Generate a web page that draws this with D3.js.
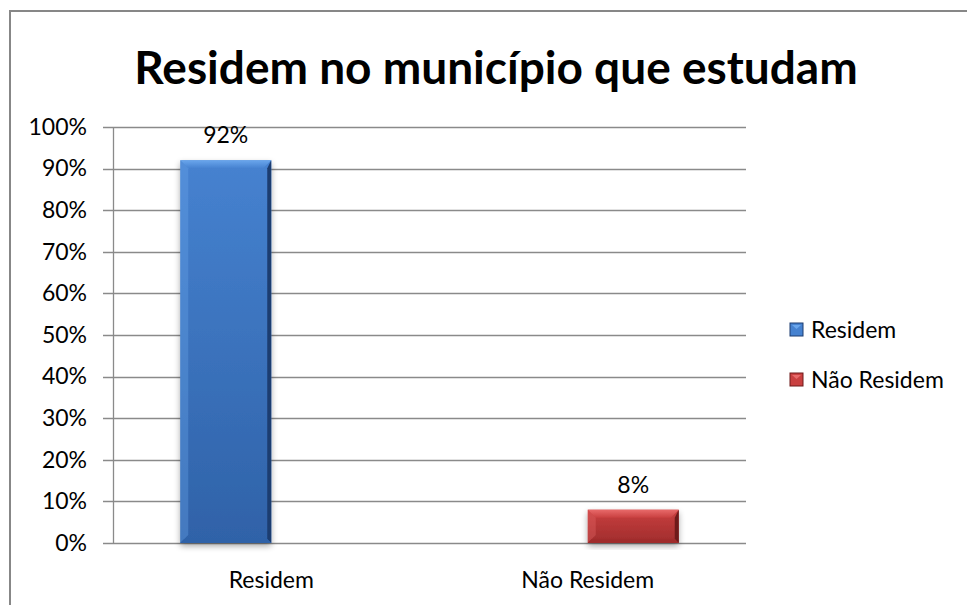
<!DOCTYPE html>
<html><head><meta charset="utf-8">
<script src="https://cdn.jsdelivr.net/npm/d3@7"></script>
<style>body{margin:0;background:#fff}svg{display:block}text{font-family:Lato,"Open Sans",sans-serif}</style>
</head><body><svg id="c" width="967" height="605"></svg>
<script>
const title = "Residem no município que estudam";
const categories = ["Residem", "Não Residem"];
const seriesNames = ["Residem", "Não Residem"];
const residemValues = [0.92, 0];
const naoResidemValues = [0, 0.08];
const yTicks = [0, 0.1, 0.2, 0.3, 0.4, 0.5, 0.6, 0.7, 0.8, 0.9, 1.0];

const seriesValues = [residemValues, naoResidemValues];
const colors = [
  {light:"#6aa6ec", mid:"#4682d0", dark:"#2f62a8", edge:"#1c3d70"},
  {light:"#e86a6a", mid:"#c94040", dark:"#a02c2c", edge:"#6e1a1a"}
];

const svg = d3.select("#c");
const defs = svg.append("defs");
colors.forEach((c,i)=>{
  const g = defs.append("linearGradient").attr("id","h"+i).attr("x1",0).attr("x2",0).attr("y1",0).attr("y2",1);
  g.append("stop").attr("offset","0").attr("stop-color",c.mid);
  g.append("stop").attr("offset","1").attr("stop-color",c.dark);
  const v = defs.append("linearGradient").attr("id","v"+i).attr("x1",0).attr("x2",0).attr("y1",0).attr("y2",1);
  v.append("stop").attr("offset","0").attr("stop-color",c.light);
  v.append("stop").attr("offset","1").attr("stop-color",c.mid);
});
const f = defs.append("filter").attr("id","sh").attr("x","-20%").attr("y","-20%").attr("width","140%").attr("height","140%");
f.append("feGaussianBlur").attr("in","SourceAlpha").attr("stdDeviation",3);
f.append("feOffset").attr("dx",0).attr("dy",3).attr("result","b");
f.append("feComponentTransfer").append("feFuncA").attr("type","linear").attr("slope",0.35);
const fm = f.append("feMerge"); fm.append("feMergeNode"); fm.append("feMergeNode").attr("in","SourceGraphic");

// frame
svg.append("rect").attr("x",10).attr("y",11).attr("width",990).attr("height",640)
  .attr("fill","none").attr("stroke","#878787").attr("stroke-width",2);

svg.append("text").attr("x",496).attr("y",84).attr("text-anchor","middle")
  .attr("font-size",46).attr("font-weight","bold").attr("fill","#000").text(title);

const pLeft = 113, pRight = 746, pTop = 127, pBottom = 543;
const x = d3.scaleBand().domain(categories).range([pLeft,pRight]).paddingInner(0.425).paddingOuter(0.2125);
const xs = d3.scaleBand().domain(seriesNames).range([0, x.bandwidth()]);
const y = d3.scaleLinear().domain([0,1]).range([pBottom,pTop]);

// gridlines
svg.append("g").selectAll("line").data(yTicks).join("line")
  .attr("x1",103).attr("x2",pRight).attr("y1",d=>Math.round(y(d))+0.5).attr("y2",d=>Math.round(y(d))+0.5)
  .attr("stroke","#8a8a8a").attr("stroke-width",1.3);
svg.append("line").attr("x1",pLeft+0.5).attr("x2",pLeft+0.5).attr("y1",pTop).attr("y2",pBottom)
  .attr("stroke","#8a8a8a").attr("stroke-width",1.3);

const yAxis = d3.axisLeft(y).tickValues(yTicks).tickFormat(d3.format(".0%")).tickSize(0).tickPadding(0);
const ya = svg.append("g").attr("transform",`translate(${87},0)`).call(yAxis);
ya.select(".domain").remove();
ya.selectAll("text").attr("font-size",23).attr("fill","#000").attr("font-family","Lato,sans-serif");

const xAxis = d3.axisBottom(x).tickSize(0).tickPadding(0);
const xa = svg.append("g").attr("transform",`translate(0,${588})`).call(xAxis);
xa.select(".domain").remove();
xa.selectAll("text").attr("font-size",23).attr("fill","#000").attr("dy",0).attr("font-family","Lato,sans-serif");

// bars
const bars = [];
seriesNames.forEach((s,si)=>categories.forEach((c,ci)=>{
  const v = seriesValues[si][ci];
  if (v>0) bars.push({s,si,c,v});
}));
const bg = svg.append("g").selectAll("g").data(bars).join("g");
bg.each(function(d){
  const g = d3.select(this);
  const bx = x(d.c)+xs(d.s), bw = xs.bandwidth(), by = y(d.v), bh = y(0)-y(d.v);
  const c = colors[d.si];
  g.append("rect").attr("x",bx).attr("y",by).attr("width",bw).attr("height",bh).attr("fill",`url(#h${d.si})`).attr("filter","url(#sh)");
  const e = 8;
  g.append("path").attr("d",`M${bx},${by}L${bx+bw},${by}L${bx+bw-e},${by+e}L${bx+e},${by+e}Z`).attr("fill",`url(#v${d.si})`);
  g.append("path").attr("d",`M${bx},${by}L${bx+e},${by+e}L${bx+e},${by+bh-e}L${bx},${by+bh}Z`).attr("fill",c.light).attr("opacity",0.35);
  g.append("path").attr("d",`M${bx+bw},${by}L${bx+bw-4},${by+e}L${bx+bw-4},${by+bh-4}L${bx+bw},${by+bh}Z`).attr("fill",c.edge);
  g.append("path").attr("d",`M${bx},${by+bh}L${bx+4},${by+bh-4}L${bx+bw-4},${by+bh-4}L${bx+bw},${by+bh}Z`).attr("fill",c.dark);
  g.append("text").attr("x",bx+bw/2).attr("y",by-17).attr("text-anchor","middle")
    .attr("font-size",23).attr("fill","#000").text(d3.format(".0%")(d.v));
});

// legend
const lg = svg.append("g").selectAll("g").data(seriesNames).join("g")
  .attr("transform",(d,i)=>`translate(790,${323+i*50})`);
lg.append("rect").attr("width",13).attr("height",13).attr("fill",(d,i)=>colors[i].mid).attr("stroke",(d,i)=>colors[i].edge).attr("stroke-width",1);
lg.append("path").attr("d","M2,2L11,2L6.5,6Z").attr("fill",(d,i)=>colors[i].light);
lg.append("text").attr("x",21).attr("y",15).attr("font-size",23).attr("fill","#000").text(d=>d);
</script></body></html>
